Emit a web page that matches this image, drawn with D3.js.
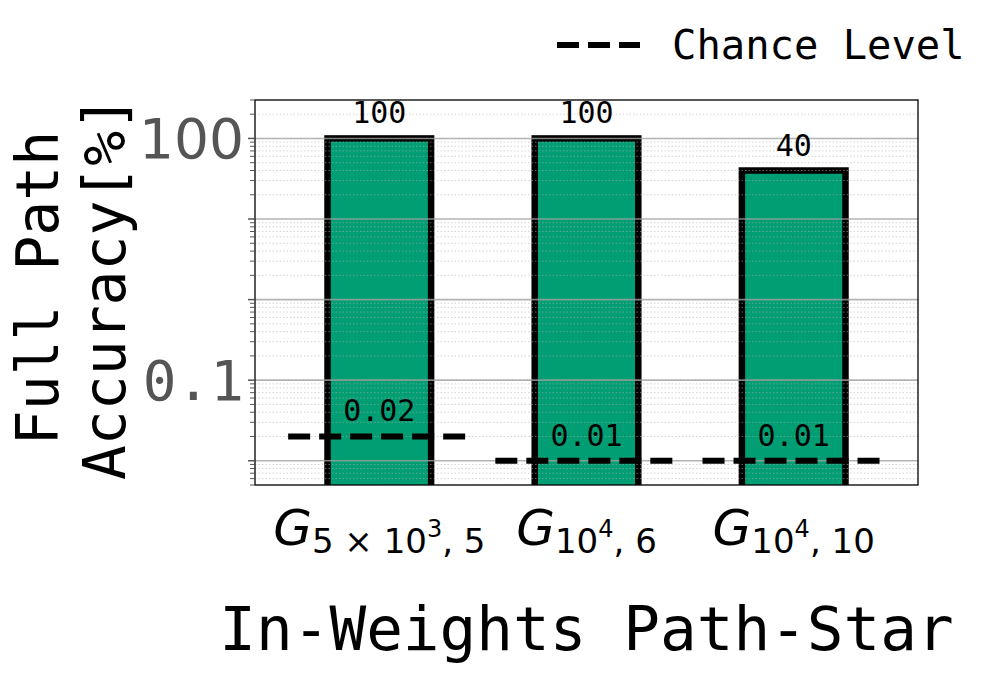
<!DOCTYPE html>
<html>
<head>
<meta charset="utf-8">
<script src="https://cdn.jsdelivr.net/npm/d3@7"></script>
<style>
  html, body { margin: 0; padding: 0; background: #fff; }
  svg { display: block; }
</style>
</head>
<body>
<script>
// ---------- data ----------
const categories = ["G", "G", "G"];
const subscripts = ["5 × 10^3, 5", "10^4, 6", "10^4, 10"];
const accuracy = [100, 100, 40];
const chanceLevel = [0.02, 0.01, 0.01];
const majorTicks = [0.01, 0.1, 1, 10, 100];
const labeledTicks = ["0.1", "100"];
const yLabelLines = ["Full Path", "Accuracy[%]"];
const xLabel = "In-Weights Path-Star";
const legendLabel = "Chance Level";

// ---------- layout ----------
const W = 996, H = 675;
const plot = { left: 255, right: 918, top: 100, bottom: 485 };
const mono = "'DejaVu Sans Mono', monospace";
const sans = "'DejaVu Sans', sans-serif";
const green = "#029E73";

const svg = d3.select("body").append("svg").attr("width", W).attr("height", H);

const x = d3.scaleLinear().domain([-0.6, 2.6]).range([plot.left, plot.right]);
const y = d3.scaleLog().domain([0.005, 300]).range([plot.bottom, plot.top]);

svg.append("defs").append("clipPath").attr("id", "clip")
  .append("rect").attr("x", plot.left).attr("y", plot.top)
  .attr("width", plot.right - plot.left).attr("height", plot.bottom - plot.top);

const g = svg.append("g").attr("clip-path", "url(#clip)");
const barW = 0.5;

// bars
g.selectAll("rect.bar").data(accuracy).enter().append("rect")
  .attr("class", "bar")
  .attr("x", (d, i) => x(i - barW / 2))
  .attr("width", x(barW) - x(0))
  .attr("y", d => y(d))
  .attr("height", d => plot.bottom + 20 - y(d))
  .attr("fill", green)
  .attr("stroke", "#000")
  .attr("stroke-width", 6.5);

// minor grid values
const minorVals = [];
for (let k = -3; k <= 2; k++) {
  for (let m = 2; m <= 9; m++) {
    const v = m * Math.pow(10, k);
    if (v >= 0.005 && v <= 300) minorVals.push(v);
  }
}

// grid (drawn above bars, semi-transparent)
g.selectAll("line.minor").data(minorVals).enter().append("line")
  .attr("x1", plot.left).attr("x2", plot.right)
  .attr("y1", d => y(d)).attr("y2", d => y(d))
  .attr("stroke", "#b0b0b0").attr("stroke-opacity", 0.55)
  .attr("stroke-width", 1).attr("stroke-dasharray", "1.5,2");
g.selectAll("line.major").data(majorTicks).enter().append("line")
  .attr("x1", plot.left).attr("x2", plot.right)
  .attr("y1", d => y(d)).attr("y2", d => y(d))
  .attr("stroke", "#a0a0a0").attr("stroke-opacity", 0.8)
  .attr("stroke-width", 1.6);

// chance lines
const halfLen = 0.44;
g.selectAll("line.chance").data(chanceLevel).enter().append("line")
  .attr("x1", (d, i) => x(i - halfLen)).attr("x2", (d, i) => x(i + halfLen))
  .attr("y1", d => y(d)).attr("y2", d => y(d))
  .attr("stroke", "#000").attr("stroke-width", 6)
  .attr("stroke-dasharray", "22,9");

// value labels
svg.selectAll("text.acc").data(accuracy).enter().append("text")
  .attr("x", (d, i) => x(i)).attr("y", d => y(d) - 15)
  .attr("text-anchor", "middle")
  .attr("font-family", mono).attr("font-size", 30).attr("fill", "#000")
  .text(d => String(d));
svg.selectAll("text.chance").data(chanceLevel).enter().append("text")
  .attr("x", (d, i) => x(i)).attr("y", d => y(d) - 15)
  .attr("text-anchor", "middle")
  .attr("font-family", mono).attr("font-size", 30).attr("fill", "#000")
  .text(d => String(d));

// frame
svg.append("rect").attr("x", plot.left).attr("y", plot.top)
  .attr("width", plot.right - plot.left).attr("height", plot.bottom - plot.top)
  .attr("fill", "none").attr("stroke", "#000").attr("stroke-width", 1.3);

// y ticks
const yAxis = svg.append("g");
yAxis.selectAll("line.mt").data(majorTicks).enter().append("line")
  .attr("x1", plot.left - 7).attr("x2", plot.left)
  .attr("y1", d => y(d)).attr("y2", d => y(d))
  .attr("stroke", "#555").attr("stroke-width", 1.5);
yAxis.selectAll("line.nt").data(minorVals).enter().append("line")
  .attr("x1", plot.left - 5).attr("x2", plot.left)
  .attr("y1", d => y(d)).attr("y2", d => y(d))
  .attr("stroke", "#555").attr("stroke-width", 1);
yAxis.selectAll("text.yt").data(labeledTicks).enter().append("text")
  .attr("x", plot.left - 11).attr("y", d => y(+d))
  .attr("dy", "0.36em")
  .attr("text-anchor", "end")
  .attr("font-family", d => d.indexOf(".") >= 0 ? mono : sans)
  .attr("font-size", d => d.indexOf(".") >= 0 ? 56 : 55)
  .attr("fill", "#555")
  .text(d => d);

// x tick labels (math style)
const xt = svg.selectAll("text.xt").data(categories).enter().append("text")
  .attr("x", (d, i) => x(i)).attr("y", 545)
  .attr("text-anchor", "middle")
  .attr("font-family", sans).attr("fill", "#000");
xt.each(function(d, i) {
  const t = d3.select(this);
  t.append("tspan").attr("font-size", 50).attr("font-style", "italic").text(d);
  const parts = subscripts[i].split("^");
  const sup = parts[1].charAt(0);
  const after = parts[1].slice(1);
  t.append("tspan").attr("font-size", 34).attr("dy", 8).text(parts[0]);
  t.append("tspan").attr("font-size", 24).attr("dy", -16).text(sup);
  t.append("tspan").attr("font-size", 34).attr("dy", 16).text(after);
});

// y label
const yl = svg.append("text")
  .attr("transform", "translate(58,288) rotate(-90)")
  .attr("text-anchor", "middle")
  .attr("font-family", mono).attr("font-size", 58).attr("fill", "#000");
yLabelLines.forEach((s, i) => {
  yl.append("tspan").attr("x", 0).attr("dy", i === 0 ? 0 : 67).text(s);
});

// x label
svg.append("text")
  .attr("x", (plot.left + plot.right) / 2).attr("y", 650)
  .attr("text-anchor", "middle")
  .attr("font-family", mono).attr("font-size", 61).attr("fill", "#000")
  .text(xLabel);

// legend
svg.append("line").attr("x1", 557).attr("x2", 640).attr("y1", 45).attr("y2", 45)
  .attr("stroke", "#000").attr("stroke-width", 6).attr("stroke-dasharray", "22,9");
svg.append("text").attr("x", 672).attr("y", 59)
  .attr("font-family", mono).attr("font-size", 40.5).attr("fill", "#000")
  .text(legendLabel);
</script>
</body>
</html>
